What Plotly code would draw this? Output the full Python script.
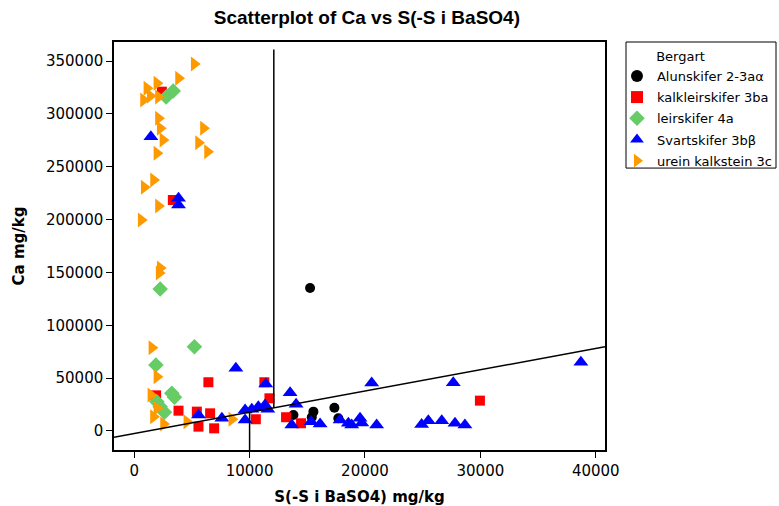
import plotly.graph_objects as go

# ---- data ----
alun_x = [15240, 17350, 13800, 15530, 15390, 17690]
alun_y = [135300, 22000, 15100, 18300, 13000, 12000]

kalk_x = [2400, 3350, 6430, 11280, 11720, 3840, 1900, 5430, 6580, 5570, 6930, 10540, 13160, 14460, 29960]
kalk_y = [321000, 218500, 46100, 46100, 30900, 19200, 33700, 18300, 16700, 4100, 2500, 11100, 13000, 7300, 28700]

leir_x = [2770, 3380, 2250, 5220, 1880, 3260, 3490, 1965, 2250, 2620]
leir_y = [316000, 321600, 134300, 79700, 62400, 35700, 31900, 27700, 23000, 17700]

svart_x = [1445, 3840, 3840, 8810, 11400, 5570, 7600, 9610, 10190, 10760, 11340, 11580, 9610,
           13510, 14030, 13660, 15330, 16110, 17840, 18560, 18850, 19570, 19720, 21010,
           20580, 27650, 38710, 24910, 25490, 26650, 27800, 28660]
svart_y = [278400, 220100, 213800, 59300, 44500, 15100, 12000, 19900, 20500, 23000, 24600, 20500, 10400,
           36200, 25300, 5700, 8800, 6600, 10400, 7300, 5700, 12000, 7500, 5700,
           45400, 45600, 65000, 6200, 9700, 9700, 7300, 5700]

urein_x = [1100, 1965, 805, 1385, 2100, 3840, 5200,
           2100, 2250, 2490, 1965, 6000, 5570, 6350,
           1675, 865, 2100, 605, 2250, 2160,
           1530, 1965, 1445, 1965, 1670, 2540, 4560, 8460]
urein_y = [324200, 329000, 313100, 316900, 316000, 333700, 347200,
           295800, 286400, 275300, 262700, 286400, 272700, 264200,
           237500, 230500, 212900, 199600, 154200, 149500,
           78800, 51400, 34000, 21500, 13500, 6600, 8800, 11100]

series_names = ["Alunskifer 2-3a\u03b1", "kalkleirskifer 3ba", "leirskifer 4a",
                "Svartskifer 3b\u03b2", "urein kalkstein 3c"]

# reference lines
line_slope = 2.01
line_intercept = -2410
vline_upper_x = 12100
vline_upper_top = 361000
vline_lower_x = 10000

x_range = [-1750, 40800]
y_range = [-18000, 368000]
x_ticks = [0, 10000, 20000, 30000, 40000]
y_ticks = [0, 50000, 100000, 150000, 200000, 250000, 300000, 350000]

FONT = "DejaVu Sans"

fig = go.Figure()

styles = [
    (alun_x, alun_y, "circle", "#000000", 10),
    (kalk_x, kalk_y, "square", "#ff0000", 10),
    (leir_x, leir_y, "diamond", "#66cc66", 12),
    (svart_x, svart_y, "triangle-up", "#0000ff", 13),
    (urein_x, urein_y, "triangle-right", "#ff9900", 13),
]
for i, ((xs, ys, sym, col, sz), name) in enumerate(zip(styles, series_names)):
    fig.add_trace(go.Scatter(
        x=xs, y=ys, mode="markers", name=name, legendgroup=f"g{i}",
        marker=dict(symbol=sym, color=col, size=sz, line=dict(width=0)),
    ))

# reference lines as shapes in data coords
fig.add_shape(type="line", xref="x", yref="y",
              x0=x_range[0], y0=line_slope * x_range[0] + line_intercept,
              x1=x_range[1], y1=line_slope * x_range[1] + line_intercept,
              line=dict(color="black", width=1.5))
fig.add_shape(type="line", xref="x", yref="y",
              x0=vline_upper_x, y0=line_slope * vline_upper_x + line_intercept,
              x1=vline_upper_x, y1=vline_upper_top,
              line=dict(color="black", width=1.5))
fig.add_shape(type="line", xref="x", yref="y",
              x0=vline_lower_x, y0=line_slope * vline_lower_x + line_intercept,
              x1=vline_lower_x, y1=y_range[0],
              line=dict(color="black", width=1.5))

# legend frame
fig.add_shape(type="rect", xref="paper", yref="paper",
              x0=1.0428, x1=1.3483, y0=0.691, y1=1.0,
              line=dict(color="black", width=1), fillcolor="rgba(0,0,0,0)")

fig.update_layout(
    width=779, height=506,
    margin=dict(l=114, r=174, t=42, b=56, autoexpand=False),
    paper_bgcolor="white", plot_bgcolor="white",
    font=dict(family=FONT, size=15, color="black"),
    title=dict(text="<b>Scatterplot of Ca vs S(-S i BaSO4)</b>",
               x=0.471, xanchor="center", y=0.965, yanchor="middle",
               font=dict(family="Liberation Sans", size=19, color="black")),
    showlegend=True,
    legend=dict(
        x=1.0244, xanchor="left", y=0.995, yanchor="top",
        borderwidth=0, bgcolor="rgba(0,0,0,0)",
        font=dict(family=FONT, size=13, color="black"),
        title=dict(text="\u00a0" * 9 + "Bergart",
                   font=dict(family=FONT, size=13, color="black")),
        itemsizing="constant",
        tracegroupgap=1.3,
    ),
)

fig.update_xaxes(
    range=x_range, tickvals=x_ticks, ticktext=[str(v) for v in x_ticks],
    showgrid=False, zeroline=False, showline=True, linecolor="black", linewidth=1.5,
    mirror=True, ticks="outside", ticklen=6, tickcolor="black", automargin=False,
    title=dict(text="<b>S(-S i BaSO4) mg/kg</b>", standoff=13,
               font=dict(family=FONT, size=15)),
)
fig.update_yaxes(
    range=y_range, tickvals=y_ticks, ticktext=[str(v) for v in y_ticks],
    showgrid=False, zeroline=False, showline=True, linecolor="black", linewidth=1.5,
    mirror=True, ticks="outside", ticklen=6, tickcolor="black", automargin=False,
    title=dict(text="<b>Ca mg/kg</b>", standoff=18,
               font=dict(family=FONT, size=15)),
)

fig.write_html("out.html")
